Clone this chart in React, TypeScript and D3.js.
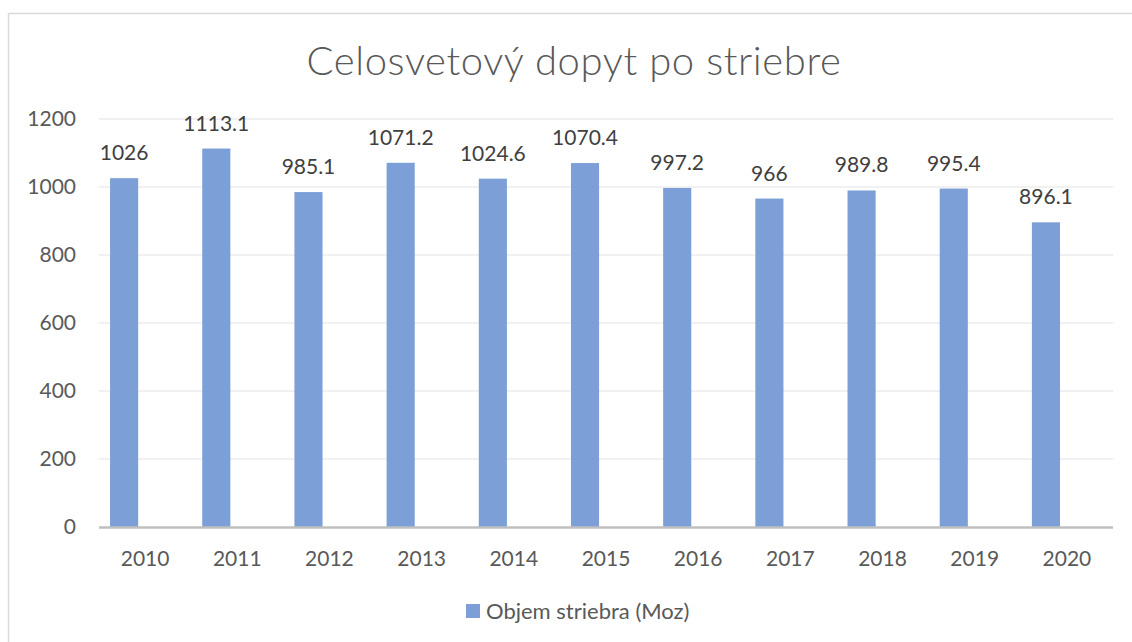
import React, { useEffect, useRef } from 'react';
import * as d3 from 'd3';

const title = 'Celosvetový dopyt po striebre';
const seriesName = 'Objem striebra (Moz)';
const years = ['2010', '2011', '2012', '2013', '2014', '2015', '2016', '2017', '2018', '2019', '2020'];
const demand = [1026, 1113.1, 985.1, 1071.2, 1024.6, 1070.4, 997.2, 966, 989.8, 995.4, 896.1];
const yTicks = [0, 200, 400, 600, 800, 1000, 1200];

const App = () => {
    const ref = useRef<SVGSVGElement>(null);

    useEffect(() => {
        const width = 1132;
        const height = 642;
        const left = 99;
        const right = 1113;
        const top = 119;
        const bottom = 527;
        const font = 'Lato, "Open Sans", sans-serif';
        const textColor = '#595959';
        const barColor = '#7b9fd6';

        const svg = d3.select(ref.current);
        svg.selectAll('*').remove();

        svg.append('rect')
            .attr('x', 8.5)
            .attr('y', 13.5)
            .attr('width', width + 20)
            .attr('height', height + 20)
            .attr('fill', 'white')
            .attr('stroke', '#d9d9d9')
            .attr('stroke-width', 1.5);

        const x = d3.scaleBand().domain(years).range([left, right]);
        const y = d3.scaleLinear().domain([0, 1200]).range([bottom, top]);

        const barOffset = x.bandwidth() * 0.12;
        const barWidth = x.bandwidth() * 0.305;

        svg.append('text')
            .attr('x', 574)
            .attr('y', 75)
            .attr('text-anchor', 'middle')
            .attr('fill', textColor)
            .style('font', `300 40px ${font}`)
            .style('letter-spacing', '0.6px')
            .text(title);

        // gridlines
        svg.append('g')
            .selectAll('line')
            .data(yTicks.filter((t) => t > 0))
            .join('line')
            .attr('x1', left)
            .attr('x2', right)
            .attr('y1', (d) => y(d))
            .attr('y2', (d) => y(d))
            .attr('stroke', '#ececec')
            .attr('stroke-width', 1.5);

        svg.append('g')
            .selectAll('text')
            .data(yTicks)
            .join('text')
            .attr('x', 76)
            .attr('y', (d) => y(d))
            .attr('dy', '0.35em')
            .attr('text-anchor', 'end')
            .attr('fill', textColor)
            .style('font', `21px ${font}`)
            .text((d) => d);

        const bars = svg.append('g')
            .selectAll('g')
            .data(years.map((year, i) => ({ year, value: demand[i] })))
            .join('g');

        bars.append('rect')
            .attr('x', (d) => x(d.year)! + barOffset)
            .attr('y', (d) => y(d.value))
            .attr('width', barWidth)
            .attr('height', (d) => bottom - y(d.value))
            .attr('fill', barColor);

        bars.append('text')
            .attr('x', (d) => x(d.year)! + barOffset + barWidth / 2)
            .attr('y', (d) => y(d.value) - 18)
            .attr('text-anchor', 'middle')
            .attr('fill', '#404040')
            .style('font', `21px ${font}`)
            .text((d) => d.value);

        svg.append('line')
            .attr('x1', left)
            .attr('x2', right)
            .attr('y1', bottom + 0.5)
            .attr('y2', bottom + 0.5)
            .attr('stroke', '#bfbfbf')
            .attr('stroke-width', 2.5);

        svg.append('g')
            .selectAll('text')
            .data(years)
            .join('text')
            .attr('x', (d) => x(d)! + x.bandwidth() / 2)
            .attr('y', 566)
            .attr('text-anchor', 'middle')
            .attr('fill', textColor)
            .style('font', `21px ${font}`)
            .text((d) => d);

        const legend = svg.append('g').attr('transform', 'translate(466,604)');
        legend.append('rect')
            .attr('width', 14)
            .attr('height', 14)
            .attr('fill', barColor);
        legend.append('text')
            .attr('x', 20)
            .attr('y', 7)
            .attr('dy', '0.35em')
            .attr('fill', textColor)
            .style('font', `22px ${font}`)
            .text(seriesName);
    }, []);

    return (
        <svg
            ref={ref}
            width={1132}
            height={642}
            style={{ position: 'absolute', left: 0, top: 0, background: 'white' }}
        />
    );
};

export default App;
